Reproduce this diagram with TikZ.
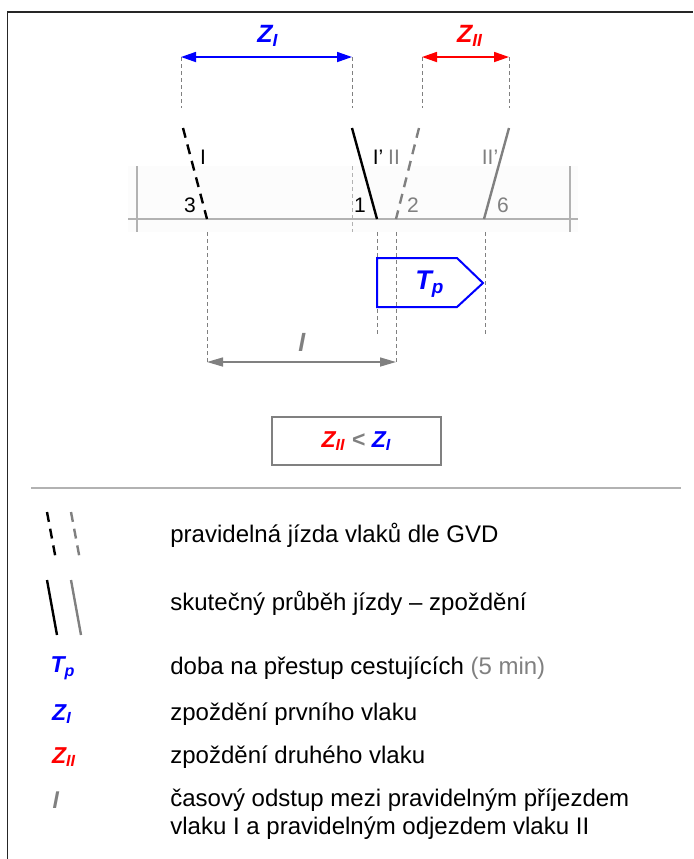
\documentclass[tikz,border=0pt]{standalone}
\usepackage{fontspec}
\setmainfont{Liberation Sans}
\usepackage{xcolor}
\usetikzlibrary{arrows.meta}

\definecolor{trackgray}{RGB}{178,178,178}
\definecolor{linegray}{RGB}{128,128,128}
\definecolor{bandgray}{RGB}{252,252,252}

\newcommand{\sym}[2]{\textbf{\textit{#1\textsubscript{#2}}}}

\tikzset{
  guide/.style={linegray, dash pattern=on 2pt off 1.5pt, line width=0.5pt},
  sched/.style={line width=1.2pt, dash pattern=on 5pt off 3.5pt},
  real/.style={line width=1.2pt},
  lbl/.style={font=\fontsize{10.5}{12}\selectfont, inner sep=0pt},
  dimlbl/.style={font=\fontsize{12.5}{14}\selectfont, inner sep=0pt},
  bigsym/.style={font=\fontsize{11.5}{13}\selectfont, inner sep=0pt},
  legtext/.style={font=\fontsize{12}{14}\selectfont, anchor=west, inner sep=0pt, align=left},
  dimarrow/.style={arrows={Triangle[length=7.5pt,width=5pt]-Triangle[length=7.5pt,width=5pt]}, line width=0.85pt},
  gaparrow/.style={arrows={Triangle[length=8pt,width=4.5pt]-Triangle[length=8pt,width=4.5pt]}, line width=0.75pt}
}

\begin{document}
\begin{tikzpicture}[x=0.5pt, y=-0.5pt]
\useasboundingbox (0,0) rectangle (693,859);

% frame and separator
\draw[black!85, line width=0.8pt] (7.5,859) -- (7.5,12) -- (693,12);
\draw[trackgray, line width=1pt] (31,488) -- (681,488);

% station band and track
\fill[bandgray] (128,166) rectangle (578,232);
\draw[trackgray, line width=1pt] (128,219) -- (578,219);
\draw[trackgray, line width=1pt] (137,166) -- (137,232);
\draw[trackgray, line width=1pt] (570,166) -- (570,232);
\draw[guide, trackgray] (352,166) -- (352,232);

% train paths
\coordinate (Itop) at (183,128);   \coordinate (Ibot) at (207,219);
\coordinate (Iatop) at (352,128);  \coordinate (Iabot) at (377,219);
\coordinate (IItop) at (419,128);  \coordinate (IIbot) at (396,219);
\coordinate (IIatop) at (509,128); \coordinate (IIabot) at (484,219);
\draw[sched] (Itop) -- (Ibot);
\draw[real] (Iatop) -- (Iabot);
\draw[sched, linegray] (IItop) -- (IIbot);
\draw[real, linegray] (IIatop) -- (IIabot);

\node[lbl] (lblI) at (203,157) {I};
\node[lbl] (lblIa) at (378,157) {I’};
\node[lbl, linegray] (lblII) at (394,157) {II};
\node[lbl, linegray] (lblIIa) at (490,157) {II’};
\node[lbl] (num3) at (190,205) {3};
\node[lbl] (num1) at (360,205) {1};
\node[lbl, linegray] (num2) at (413,205) {2};
\node[lbl, linegray] (num6) at (503,205) {6};

% delays
\coordinate (zIa) at (181,57);  \coordinate (zIb) at (352,57);
\coordinate (zIIa) at (422,57); \coordinate (zIIb) at (509,57);
\foreach \c in {zIa,zIb,zIIa,zIIb}
  \draw[guide] (\c) -- ++(0,51);
\draw[blue, dimarrow] (zIa) -- (zIb);
\draw[red, dimarrow] (zIIa) -- (zIIb);
\node[dimlbl, blue] (zIlbl) at (268,36) {\sym{Z}{I}};
\node[dimlbl, red] (zIIlbl) at (470,36) {\sym{Z}{II}};

% transfer time and interval
\coordinate (lA) at (207,362); \coordinate (lB) at (396,362);
\draw[guide] (207,232) -- (lA);
\draw[guide] (396,232) -- (lB);
\draw[guide] (377,232) -- (377,335);
\draw[guide] (485,232) -- (485,335);
\draw[blue, line width=1pt] (377,258) -- (457,258) -- (483,283) -- (457,307) -- (377,307) -- cycle;
\node[font=\fontsize{13.5}{15}\selectfont, inner sep=0pt, blue] (tp) at (430,284) {\sym{T}{p}};
\draw[linegray, gaparrow] (lA) -- (lB);
\node[dimlbl, linegray] (llbl) at (302,342) {\textbf{\textit{l}}};

\node[draw=linegray, line width=1pt, minimum width=84.5pt, minimum height=24pt, font=\fontsize{11.5}{13}\selectfont] (cmp) at (356.5,441)
  {\textcolor{red}{\sym{Z}{II}} \textcolor{linegray}{\textbf{<}} \textcolor{blue}{\sym{Z}{I}}};

% legend
\draw[sched] (47,512) -- (56,560);
\draw[sched, linegray] (71,512) -- (80,560);
\draw[real] (47,580) -- (57,635);
\draw[real, linegray] (71,580) -- (81,635);
\node[legtext] (lg1) at (170,535) {pravidelná jízda vlaků dle GVD};
\node[legtext] (lg2) at (170,603) {skutečný průběh jízdy – zpoždění};
\node[bigsym, blue] (sTp) at (63,668) {\sym{T}{p}};
\node[legtext] (lg3) at (170,668) {doba na přestup cestujících \textcolor{linegray}{(5 min)}};
\node[bigsym, blue] (sZI) at (62,714) {\sym{Z}{I}};
\node[legtext] (lg4) at (170,714) {zpoždění prvního vlaku};
\node[bigsym, red] (sZII) at (64,757) {\sym{Z}{II}};
\node[legtext] (lg5) at (170,757) {zpoždění druhého vlaku};
\node[bigsym, linegray] (sl) at (56,800) {\textbf{\textit{l}}};
\node[legtext, anchor=north west] (lg6) at (170,788) {časový odstup mezi pravidelným příjezdem\\vlaku I a pravidelným odjezdem vlaku II};
\end{tikzpicture}
\end{document}
